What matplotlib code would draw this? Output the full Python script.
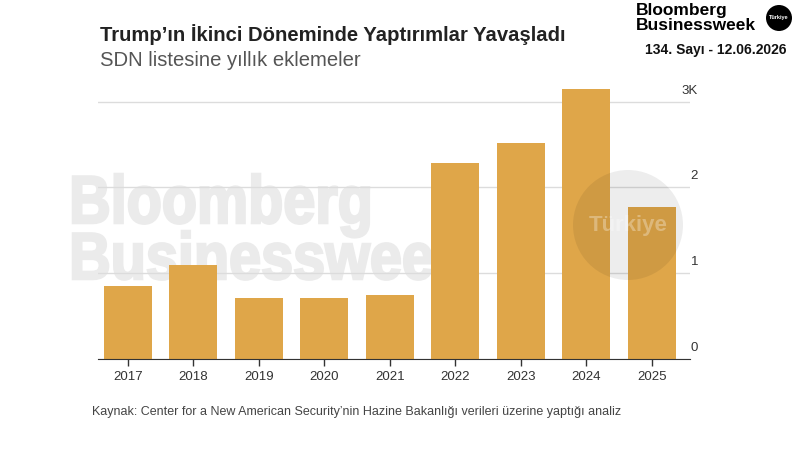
import matplotlib
matplotlib.use("Agg")
import matplotlib.pyplot as plt
from matplotlib.font_manager import FontProperties
from matplotlib.patches import Circle, PathPatch
from matplotlib.textpath import TextPath
from matplotlib.transforms import Affine2D, offset_copy

years = ["2017", "2018", "2019", "2020", "2021", "2022", "2023", "2024", "2025"]
additions = [852, 1093, 705, 712, 747, 2280, 2513, 3143, 1767]  # SDN additions per year
ytick_values = [0, 1000, 2000, 3000]
ytick_labels = ["0", "1", "2", "3K"]

title = "Trump’ın İkinci Döneminde Yaptırımlar Yavaşladı"
subtitle = "SDN listesine yıllık eklemeler"
source = "Kaynak: Center for a New American Security’nin Hazine Bakanlığı verileri üzerine yaptığı analiz"

W, H = 800, 450
BAR = "#DFA649"
plt.rcParams["font.family"] = ["Liberation Sans", "DejaVu Sans"]

fig = plt.figure(figsize=(W / 100, H / 100), dpi=100)
fig.patch.set_facecolor("white")


def fit_text(s, x0, x1, top, base, **kw):
    # squeeze a text path into a pixel box (top/base measured from the top edge)
    tp = TextPath((0, 0), s, size=100, prop=FontProperties(family="Liberation Sans", weight="bold"))
    bb = tp.get_extents()
    tr = Affine2D().translate(-bb.x0, 0).scale((x1 - x0) / bb.width, (base - top) / bb.y1)
    tr = tr.translate(x0, H - base)
    patch = PathPatch(tp, transform=tr, **kw)
    fig.add_artist(patch)
    return patch


# faint watermark behind the bars
wm = dict(facecolor="#ebebeb", edgecolor="#ebebeb", lw=1.8, zorder=-1)
fit_text("Bloomberg", 73, 369, 174, 223, **wm)
fit_text("Businessweek", 73, 466, 231, 279, **wm)

ax = fig.add_axes([98 / W, (H - 358.7) / H, 592 / W, (358.7 - 75.9) / H])
ax.set_facecolor("none")
x = list(range(len(years)))
ax.bar(x, additions, width=0.735, color=BAR, zorder=3)
ax.set_xlim(-0.453, 8.585)
ax.set_ylim(0, 3300)

ax.set_xticks(x)
ax.set_xticklabels(years)
ax.tick_params(axis="x", length=5, width=1, color="#333333", labelsize=9.5,
               labelcolor="#333333", pad=4)
ax.set_yticks(ytick_values)
ax.set_yticklabels([])
ax.tick_params(axis="y", length=0)
ax.grid(axis="y", color="#dcdcdc", lw=1, zorder=1)
for side in ["top", "left", "right"]:
    ax.spines[side].set_visible(False)
ax.spines["bottom"].set_color("#333333")
ax.spines["bottom"].set_zorder(4)

label_tr = offset_copy(ax.get_yaxis_transform(), fig=fig, x=0, y=11, units="dots")
for v, lab in zip(ytick_values, ytick_labels):
    ax.text(1.0135, v, lab, transform=label_tr, ha="right", va="center",
            fontsize=9.5, color="#333333")

# round "Türkiye" watermark sits over the bars
fig.add_artist(Circle((628, H - 225), 55, transform=Affine2D(), color="black",
                      alpha=0.07, lw=0, zorder=5))
fig.text(628 / W, 1 - 226 / H, "Türkiye", ha="center", va="center", fontsize=16,
         fontweight="bold", color="white", alpha=0.3, zorder=6)

fig.text(100 / W, 1 - 35 / H, title, ha="left", va="center", fontsize=14.6,
         fontweight="bold", color="#222222")
fig.text(100 / W, 1 - 61 / H, subtitle, ha="left", va="center", fontsize=14.6,
         color="#555555")
fig.text(92 / W, 1 - 412 / H, source, ha="left", va="center", fontsize=9,
         color="#444444")

# masthead, top right
fig.text(636 / W, 1 - 11 / H, "Bloomberg", ha="left", va="center", fontsize=12.5,
         fontweight="bold", color="black")
fig.text(636 / W, 1 - 26 / H, "Businessweek", ha="left", va="center", fontsize=12.5,
         fontweight="bold", color="black")
fig.add_artist(Circle((779, H - 18), 13, transform=Affine2D(), color="black", lw=0))
fig.text(779 / W, 1 - 18 / H, "Türkiye", ha="center", va="center", fontsize=4,
         fontweight="bold", color="white")
fig.text(716 / W, 1 - 50 / H, "134. Sayı - 12.06.2026", ha="center", va="center",
         fontsize=10, fontweight="bold", color="#111111")

fig.savefig("out.png", dpi=100)
